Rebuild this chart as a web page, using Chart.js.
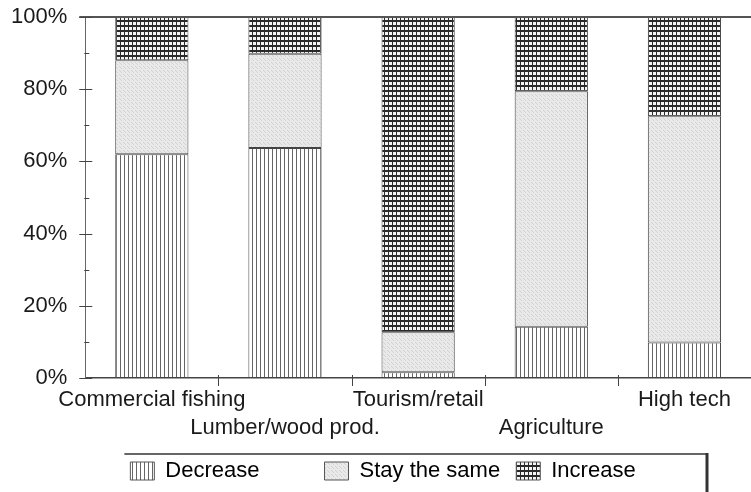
<!DOCTYPE html>
<html>
<head>
<meta charset="utf-8">
<script src="https://cdn.jsdelivr.net/npm/chart.js@4/dist/chart.umd.min.js"></script>
<style>
  html, body { margin: 0; padding: 0; background: #fff; overflow: hidden; }
  #wrap { width: 751px; height: 492px; }
</style>
</head>
<body>
<div id="wrap"><canvas id="chart" width="751" height="492"></canvas></div>
<script>
const categories = ['Commercial fishing', 'Lumber/wood prod.', 'Tourism/retail', 'Agriculture', 'High tech'];
const decrease = [62, 63.7, 1.6, 14.2, 9.8];
const stayTheSame = [26, 26.1, 11.1, 65.2, 62.7];
const increase = [12, 10.2, 87.3, 20.6, 27.5];
const yTicks = [0, 20, 40, 60, 80, 100];

const FONT = 'Liberation Sans, Arial, Helvetica, sans-serif';
const INK = '#1a1a1a';

// hatch fills like the old print
function makePattern(w, h, draw) {
    const c = document.createElement('canvas');
    c.width = w; c.height = h;
    const g = c.getContext('2d');
    draw(g);
    return g.createPattern(c, 'repeat');
}
const ctx = document.getElementById('chart').getContext('2d');
const vLines = makePattern(4, 4, g => {
    g.fillStyle = '#fff'; g.fillRect(0, 0, 4, 4);
    g.fillStyle = '#666'; g.fillRect(0, 0, 1, 4);
});
const stipple = makePattern(4, 4, g => {
    g.fillStyle = '#e9e9e9'; g.fillRect(0, 0, 4, 4);
    g.fillStyle = '#d2d2d2';
    g.fillRect(1, 0, 1, 1); g.fillRect(3, 2, 1, 1); g.fillRect(0, 3, 1, 1);
});
const grid = makePattern(4, 5, g => {
    g.fillStyle = '#f4f4f4'; g.fillRect(0, 0, 4, 5);
    g.fillStyle = '#2a2a2a';
    g.fillRect(0, 0, 1, 5);
    g.fillRect(0, 0, 4, 2);
});

// nudge the legend right a bit, the print has it off-centre
const legendNudge = {
    id: 'legendNudge',
    afterLayout(chart) {
        const lg = chart.legend;
        lg.left += 11;
        lg.right += 11;
        if (lg.adjustHitBoxes) lg.adjustHitBoxes();
    }
};

// top frame line, axis tick marks, legend frame
const decorations = {
    id: 'decorations',
    afterDraw(chart) {
        const c = chart.ctx;
        const area = chart.chartArea;
        const x = chart.scales.x;
        const y = chart.scales.y;
        c.save();
        c.strokeStyle = '#555';
        c.lineWidth = 2;
        c.beginPath();
        c.moveTo(area.left - 6, area.top);
        c.lineTo(chart.width, area.top);
        c.stroke();

        c.strokeStyle = '#444';
        c.lineWidth = 1;
        yTicks.forEach(v => {
            const py = Math.round(y.getPixelForValue(v)) + 0.5;
            c.beginPath();
            c.moveTo(area.left - 6, py);
            c.lineTo(area.left + 7, py);
            c.stroke();
            if (v < 100) {
                const pm = Math.round(y.getPixelForValue(v + 10)) + 0.5;
                c.beginPath();
                c.moveTo(area.left - 1, pm);
                c.lineTo(area.left + 4, pm);
                c.stroke();
            }
        });
        for (let i = 0; i < categories.length - 1; i++) {
            const px = Math.round((x.getPixelForValue(i) + x.getPixelForValue(i + 1)) / 2) + 0.5;
            c.beginPath();
            c.moveTo(px, area.bottom - 3);
            c.lineTo(px, area.bottom + 8);
            c.stroke();
        }

        const lg = chart.legend;
        const boxes = lg.legendHitBoxes;
        if (boxes.length) {
            const left = boxes[0].left - 6;
            const right = chart.width - 44;
            const top = lg.top + 4;
            c.strokeStyle = '#333';
            c.lineWidth = 1.5;
            c.beginPath();
            c.moveTo(left, top);
            c.lineTo(right, top);
            c.stroke();
            c.lineWidth = 3;
            c.beginPath();
            c.moveTo(right, top - 1);
            c.lineTo(right, chart.height);
            c.stroke();
        }
        c.restore();
    }
};

const seg = {
    borderColor: '#444',
    borderWidth: 1,
    borderSkipped: false,
    barPercentage: 0.55,
    categoryPercentage: 1.0
};

new Chart(ctx, {
    type: 'bar',
    data: {
        labels: categories,
        datasets: [
            Object.assign({ label: 'Decrease', data: decrease, backgroundColor: vLines }, seg),
            Object.assign({ label: 'Stay the same', data: stayTheSame, backgroundColor: stipple }, seg),
            Object.assign({ label: 'Increase', data: increase, backgroundColor: grid }, seg)
        ]
    },
    options: {
        responsive: false,
        animation: false,
        layout: { padding: { top: 17, left: -7, right: 0, bottom: 0 } },
        plugins: {
            tooltip: { enabled: false },
            legend: {
                position: 'bottom',
                labels: {
                    color: INK,
                    font: { family: FONT, size: 22 },
                    boxWidth: 24,
                    boxHeight: 18,
                    padding: 10,
                    generateLabels(chart) {
                        const extra = ['         ', ' ', ''];
                        return chart.data.datasets.map((ds, i) => ({
                            text: ds.label + extra[i],
                            fillStyle: ds.backgroundColor,
                            strokeStyle: '#555',
                            lineWidth: 1,
                            datasetIndex: i
                        }));
                    }
                }
            }
        },
        scales: {
            x: {
                stacked: true,
                grid: { display: false, drawTicks: false },
                border: { color: '#444', width: 1.5 },
                ticks: {
                    color: INK,
                    font: { family: FONT, size: 22, lineHeight: 1.27 },
                    padding: 8,
                    autoSkip: false,
                    maxRotation: 0,
                    minRotation: 0,
                    callback: (v, i) => i % 2 ? ['', categories[i]] : [categories[i], '']
                },
                afterFit(scale) {
                    scale.height = 72;
                    scale.paddingLeft = 0;
                    scale.paddingRight = 0;
                }
            },
            y: {
                stacked: true,
                min: 0,
                max: 100,
                grid: { display: false, drawTicks: false },
                border: { color: '#666', width: 1 },
                ticks: {
                    stepSize: 20,
                    color: INK,
                    font: { family: FONT, size: 22 },
                    padding: 18,
                    callback: v => v + '%'
                },
                afterFit(scale) {
                    scale.paddingTop = 0;
                    scale.paddingBottom = 0;
                }
            }
        }
    },
    plugins: [legendNudge, decorations]
});
</script>
</body>
</html>
